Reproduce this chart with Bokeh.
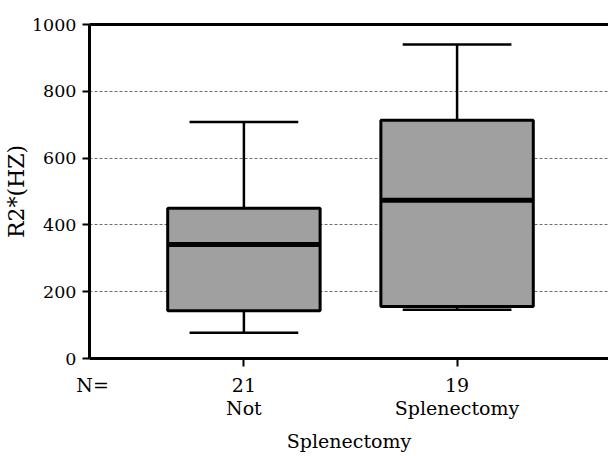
from bokeh.plotting import figure
from bokeh.models import LinearAxis, FixedTicker, Range1d
from bokeh.embed import file_html
from bokeh.resources import INLINE

categories = ["Not", "Splenectomy"]
n_counts = [21, 19]
whisker_low = [77, 146]
q1 = [143, 156]
median = [341, 474]
q3 = [450, 713]
whisker_high = [708, 940]
y_ticks = [0, 200, 400, 600, 800, 1000]

FONT = "DejaVu Serif"
xs = [i + 1 for i in range(len(categories))]
box_w = 0.715
cap_w = 0.51
n_pos = 0.29

p = figure(width=608, height=456, output_backend="svg", toolbar_location=None,
           x_range=Range1d(0.2757, 2.7103), y_range=Range1d(0, 1000),
           min_border_left=87, min_border_right=0, min_border_top=24, min_border_bottom=98)
p.outline_line_color = None
p.background_fill_color = "white"
p.border_fill_color = "white"

# grid
p.xgrid.visible = False
p.ygrid.ticker = FixedTicker(ticks=[200, 400, 600, 800])
p.ygrid.grid_line_color = "#6e6e6e"
p.ygrid.grid_line_dash = "3 2"
p.ygrid.grid_line_width = 1

# whiskers
p.segment(x0=xs, x1=xs, y0=q3, y1=whisker_high, line_color="black", line_width=2.5)
p.segment(x0=xs, x1=xs, y0=whisker_low, y1=q1, line_color="black", line_width=2.5)
p.segment(x0=[x - cap_w / 2 for x in xs], x1=[x + cap_w / 2 for x in xs],
          y0=whisker_high, y1=whisker_high, line_color="black", line_width=2.5)
p.segment(x0=[x - cap_w / 2 for x in xs], x1=[x + cap_w / 2 for x in xs],
          y0=whisker_low, y1=whisker_low, line_color="black", line_width=2.5)
# boxes
p.vbar(x=xs, width=box_w, bottom=q1, top=q3, fill_color="#a0a0a0",
       line_color="black", line_width=3)
p.segment(x0=[x - box_w / 2 for x in xs], x1=[x + box_w / 2 for x in xs],
          y0=median, y1=median, line_color="black", line_width=5)

# y axis
ya = p.yaxis[0]
ya.ticker = FixedTicker(ticks=y_ticks)
ya.minor_tick_line_color = None
ya.major_tick_in = 0
ya.major_tick_out = 7
ya.major_tick_line_width = 2
ya.axis_line_width = 3
ya.major_label_text_font = FONT
ya.major_label_text_font_size = "17.5px"
ya.major_label_text_color = "black"
ya.major_label_standoff = 6
ya.axis_label = "R2*(HZ)"
ya.axis_label_text_font = FONT
ya.axis_label_text_font_size = "22px"
ya.axis_label_text_font_style = "normal"
ya.axis_label_text_color = "black"
ya.axis_label_standoff = 0

# x axis: line + tick marks only
xa = p.xaxis[0]
xa.ticker = FixedTicker(ticks=xs)
xa.major_label_overrides = {x: "" for x in xs}
xa.minor_tick_line_color = None
xa.major_tick_in = 0
xa.major_tick_out = 8
xa.major_tick_line_width = 2
xa.axis_line_width = 3
xa.major_label_standoff = 0

# x axis: labels
label_ticks = [n_pos] + xs
label_text = ["N="] + [f"{n}\n{c}" for n, c in zip(n_counts, categories)]
xl = LinearAxis(ticker=FixedTicker(ticks=label_ticks),
                major_label_overrides=dict(zip(label_ticks, label_text)),
                axis_line_color=None, major_tick_line_color=None, minor_tick_line_color=None,
                major_label_text_font=FONT, major_label_text_font_size="19px",
                major_label_text_color="black", major_label_text_line_height=1.07,
                major_label_standoff=1,
                axis_label="Splenectomy", axis_label_text_font=FONT,
                axis_label_text_font_size="19px", axis_label_text_font_style="normal",
                axis_label_text_color="black", axis_label_standoff=8)
p.add_layout(xl, "below")

# top border line
top = LinearAxis(ticker=FixedTicker(ticks=[]), axis_line_width=3,
                 major_tick_line_color=None, minor_tick_line_color=None)
p.add_layout(top, "above")

open("out.html", "w").write(file_html(p, INLINE))
